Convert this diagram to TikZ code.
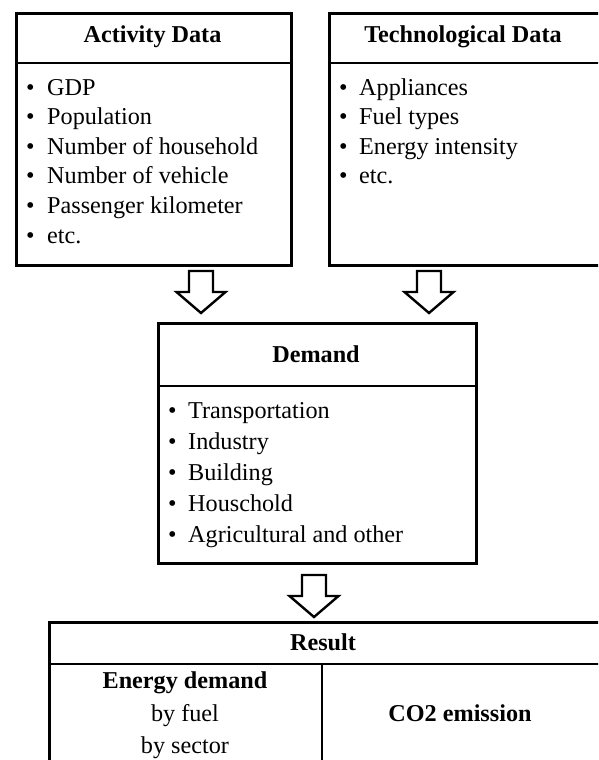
\documentclass[tikz,border=0pt]{standalone}
\usepackage{fontspec}
\setmainfont{Liberation Serif}
\newcommand\bkarrow[1]{\draw[blk] (#1) ++(-12,0) -- ++(24,0) -- ++(0,21) -- ++(12.5,0) -- ++(-24.5,21) -- ++(-24.5,-21) -- ++(12.5,0) -- cycle;}
\begin{document}
\begin{tikzpicture}[x=1pt,y=-1pt,
  box/.style={draw, line width=2.6pt, inner sep=0pt, anchor=north west},
  rule/.style={line width=2.6pt},
  txt/.style={font=\fontsize{24.2}{29}\selectfont, inner sep=0pt},
  ttl/.style={txt, font=\fontsize{24.2}{29}\selectfont\bfseries, anchor=base},
  item/.style={txt, anchor=base west},
  plain/.style={txt, anchor=base},
  blk/.style={draw, line width=2.4pt, fill=white, line join=miter}]
\useasboundingbox (0,0) rectangle (598,760);
\clip (0,0) rectangle (598,760);

% Activity Data
\node[box, minimum width=275pt, minimum height=252pt] (act) at (15,12) {};
\draw[rule] (15,63) -- (290,63);
\node[ttl] (actT) at (152.5,43) {Activity Data};
\foreach \t [count=\k] in {GDP, Population, Number of household, Number of vehicle, Passenger kilometer, etc.} {
  \node[item] (actB\k) at (26,{95+29.6*(\k-1)}) {\textbullet};
  \node[item] (actL\k) at (47,{95+29.6*(\k-1)}) {\t};
}

% Technological Data
\node[box, minimum width=300pt, minimum height=252pt] (tec) at (328,12) {};
\draw[rule] (328,63) -- (640,63);
\node[ttl] (tecT) at (463,43) {Technological Data};
\foreach \t [count=\k] in {Appliances, Fuel types, Energy intensity, etc.} {
  \node[item] (tecB\k) at (339,{95+29.6*(\k-1)}) {\textbullet};
  \node[item] (tecL\k) at (359,{95+29.6*(\k-1)}) {\t};
}

% Demand
\node[box, minimum width=318pt, minimum height=240pt] (dem) at (157,322) {};
\draw[rule] (157,386) -- (475,386);
\node[ttl] (demT) at (316,362) {Demand};
\foreach \t [count=\k] in {Transportation, Industry, Building, Houschold, Agricultural and other} {
  \node[item] (demB\k) at (168,{418+31*(\k-1)}) {\textbullet};
  \node[item] (demL\k) at (188,{418+31*(\k-1)}) {\t};
}

% Result
\node[box, minimum width=580pt, minimum height=200pt] (res) at (48,621) {};
\draw[rule] (48,664) -- (640,664);
\draw[rule] (322,664) -- (322,800);
\node[ttl] (resT) at (323,650) {Result};
\node[ttl] (resE) at (185,688) {Energy demand};
\node[plain] (resF) at (185,721) {by fuel};
\node[plain] (resS) at (185,753) {by sector};
\node[ttl] (resC) at (460,721) {CO2 emission};

% block arrows
\coordinate (ar1) at (201,271);
\coordinate (ar2) at (429,271);
\coordinate (ar3) at (314,575);
\bkarrow{ar1}
\bkarrow{ar2}
\bkarrow{ar3}
\end{tikzpicture}
\end{document}
